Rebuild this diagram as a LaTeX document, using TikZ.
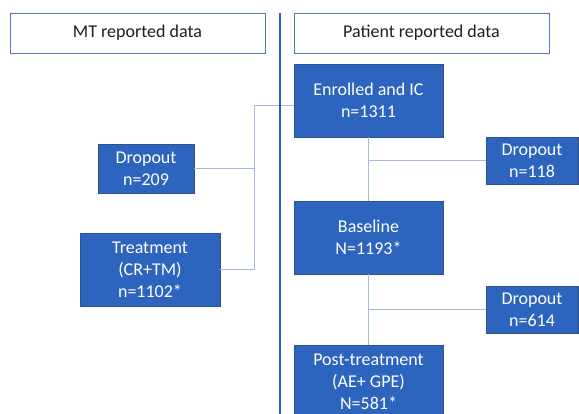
\documentclass[tikz,border=0pt]{standalone}
\usepackage{fontspec}
\setmainfont{Carlito}
\definecolor{boxblue}{RGB}{45,100,190}
\definecolor{boxedge}{RGB}{47,82,143}
\definecolor{headedge}{RGB}{85,120,185}
\definecolor{connline}{RGB}{165,185,222}
\definecolor{divline}{RGB}{40,95,190}
\begin{document}
\begin{tikzpicture}[x=1pt,y=-1pt,
  stepbox/.style={fill=boxblue,draw=boxedge,line width=0.7pt,text=white,align=center,inner sep=0pt,
     font=\fontsize{18}{22}\selectfont},
  headbox/.style={fill=white,draw=headedge,line width=1pt,text={rgb,255:red,30;green,30;blue,30},inner sep=0pt,
     minimum width=255pt,minimum height=40pt,font=\fontsize{18}{22}\selectfont},
  conn/.style={draw=connline,line width=1pt},
  divider/.style={draw=divline,line width=2.6pt}]
\useasboundingbox (0,0) rectangle (579,413);
% header boxes
\node[headbox] (hl) at (137.5,33) {MT reported data};
\node[headbox] (hr) at (421.5,33) {Patient reported data};
% right column
\node[stepbox,minimum width=149pt,minimum height=73pt] (enr) at (368.5,100.5) {Enrolled and IC\\n=1311};
\node[stepbox,minimum width=92pt,minimum height=47pt] (dr1) at (532,160.5) {Dropout\\n=118};
\node[stepbox,minimum width=149pt,minimum height=73pt] (base) at (368.5,237.5) {Baseline\\N=1193*};
\node[stepbox,minimum width=92pt,minimum height=47pt] (dr2) at (532,309.5) {Dropout\\n=614};
\node[stepbox,minimum width=149pt,minimum height=74pt] (post) at (368.5,382) {Post-treatment\\(AE+ GPE)\\N=581*};
% left column
\node[stepbox,minimum width=96pt,minimum height=49pt] (dl) at (146,168.5) {Dropout\\n=209};
\node[stepbox,minimum width=140pt,minimum height=73pt] (tr) at (150,269.5) {Treatment\\(CR+TM)\\n=1102*};
% connectors
\coordinate (j) at (254,105);
\draw[conn] (enr.south) -- (base.north);
\draw[conn] (enr.south |- dr1.west) -- (dr1.west);
\draw[conn] (base.south) -- (post.north);
\draw[conn] (base.south |- dr2.west) -- (dr2.west);
\draw[conn] (enr.west |- j) -- (j) -- (j |- tr.east) -- (tr.east);
\draw[conn] (dl.east) -- (dl.east -| j);
% divider
\coordinate (dtop) at (280,13);
\coordinate (dbot) at (280,420);
\draw[divider] (dtop) -- (dbot);
\end{tikzpicture}
\end{document}
